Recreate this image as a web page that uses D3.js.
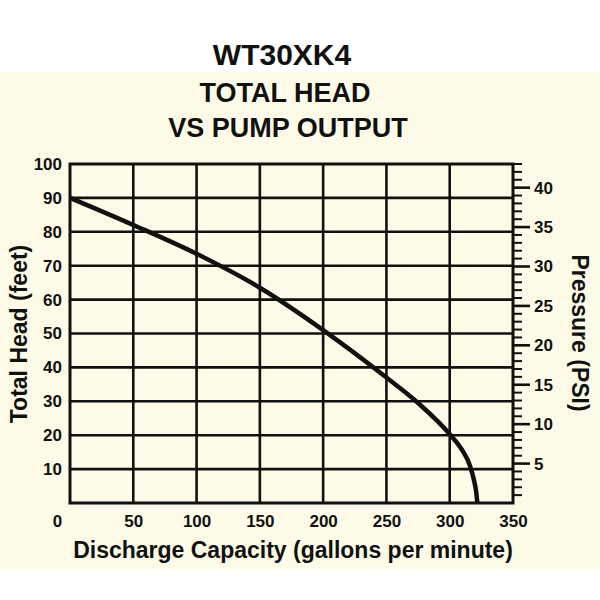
<!DOCTYPE html>
<html><head><meta charset="utf-8">
<script src="https://cdn.jsdelivr.net/npm/d3@7"></script>
<style>
html,body{margin:0;padding:0;background:#fff;}
svg{display:block;}
text{font-family:"Liberation Sans",Arial,Helvetica,sans-serif;font-weight:bold;fill:#111;}
</style></head>
<body>
<script>
// ---- data ----
const titleLines = ["WT30XK4", "TOTAL HEAD", "VS PUMP OUTPUT"];
const flowGpm = [0, 50, 100, 150, 200, 250, 275, 300, 310, 316, 319, 321, 321.8];
const headFt  = [90, 82, 73.5, 63.5, 51, 37, 29.5, 20.3, 15.5, 11, 7, 3, 0];
const xTicks = [0, 50, 100, 150, 200, 250, 300, 350];
const yTicks = [10, 20, 30, 40, 50, 60, 70, 80, 90, 100];
const psiMajor = [5, 10, 15, 20, 25, 30, 35, 40];
const psiMinor = d3.range(1, 44);
const xTitle = "Discharge Capacity (gallons per minute)";
const yTitle = "Total Head (feet)";
const y2Title = "Pressure (PSI)";

const W = 600, H = 600;
const L = 70, R = 513, T = 164, B = 503;
const bg = "#fdfbe7";

const svg = d3.select("body").append("svg").attr("width", W).attr("height", H);
svg.append("rect").attr("x", 0).attr("y", 0).attr("width", W).attr("height", H).attr("fill", "#fff");
svg.append("rect").attr("x", 0).attr("y", 72).attr("width", W).attr("height", 570 - 72).attr("fill", bg);

// titles
const titleY = [65, 102, 137], titleSize = [30, 27, 27], titleX = [282, 285, 288];
titleLines.forEach((t, i) => {
  svg.append("text").attr("x", titleX[i]).attr("y", titleY[i]).attr("text-anchor", "middle")
    .attr("font-size", titleSize[i]).text(t);
});

const x = d3.scaleLinear().domain([0, 350]).range([L, R]);
const y = d3.scaleLinear().domain([0, 100]).range([B, T]);
const p = d3.scaleLinear().domain([0, 43]).range([B, T]);

// grid
const grid = svg.append("g").attr("stroke", "#111").attr("stroke-width", 2.6);
grid.selectAll("line.v").data(xTicks.slice(1, -1)).join("line")
  .attr("x1", d => x(d)).attr("x2", d => x(d)).attr("y1", T).attr("y2", B);
grid.selectAll("line.h").data(yTicks.slice(0, -1)).join("line")
  .attr("y1", d => y(d)).attr("y2", d => y(d)).attr("x1", L).attr("x2", R);

// right minor/major ticks
const tk = svg.append("g").attr("stroke", "#111");
tk.selectAll("line.mn").data(psiMinor).join("line")
  .attr("x1", R).attr("x2", d => psiMajor.includes(d) ? R + 17 : R + 9)
  .attr("y1", d => p(d)).attr("y2", d => p(d))
  .attr("stroke-width", d => psiMajor.includes(d) ? 2.6 : 2);

// border
svg.append("rect").attr("x", L).attr("y", T).attr("width", R - L).attr("height", B - T)
  .attr("fill", "none").attr("stroke", "#111").attr("stroke-width", 3);

// curve
const pts = flowGpm.map((f, i) => [f, headFt[i]]);
const line = d3.line().x(d => x(d[0])).y(d => y(d[1])).curve(d3.curveMonotoneX);
svg.append("path").attr("d", line(pts)).attr("fill", "none").attr("stroke", "#111")
  .attr("stroke-width", 4.5).attr("stroke-linecap", "butt");

// axes labels via d3 axes
const fs = 17;
const gx = svg.append("g").attr("transform", `translate(0,${B})`)
  .call(d3.axisBottom(x).tickValues(xTicks).tickSize(0).tickPadding(12).tickFormat(d3.format("d")));
gx.select(".domain").remove();
gx.selectAll("text").attr("font-size", fs).attr("font-family", null).attr("fill", "#111")
  .attr("dx", d => d === 0 ? -13 : 0);

const gy = svg.append("g").attr("transform", `translate(${L},0)`)
  .call(d3.axisLeft(y).tickValues(yTicks).tickSize(0).tickPadding(8).tickFormat(d3.format("d")));
gy.select(".domain").remove();
gy.selectAll("text").attr("font-size", fs).attr("font-family", null).attr("fill", "#111");

const gp = svg.append("g").attr("transform", `translate(${R + 17},0)`)
  .call(d3.axisRight(p).tickValues(psiMajor).tickSize(0).tickPadding(4).tickFormat(d3.format("d")));
gp.select(".domain").remove();
gp.selectAll("text").attr("font-size", fs).attr("font-family", null).attr("fill", "#111");

// axis titles
svg.append("text").attr("x", 293).attr("y", 558).attr("text-anchor", "middle")
  .attr("font-size", 23).text(xTitle);
svg.append("text").attr("transform", "translate(27,334) rotate(-90)").attr("text-anchor", "middle")
  .attr("font-size", 23).text(yTitle);
svg.append("text").attr("transform", "translate(572,333) rotate(90)").attr("text-anchor", "middle")
  .attr("font-size", 23).text(y2Title);
</script>
</body></html>
